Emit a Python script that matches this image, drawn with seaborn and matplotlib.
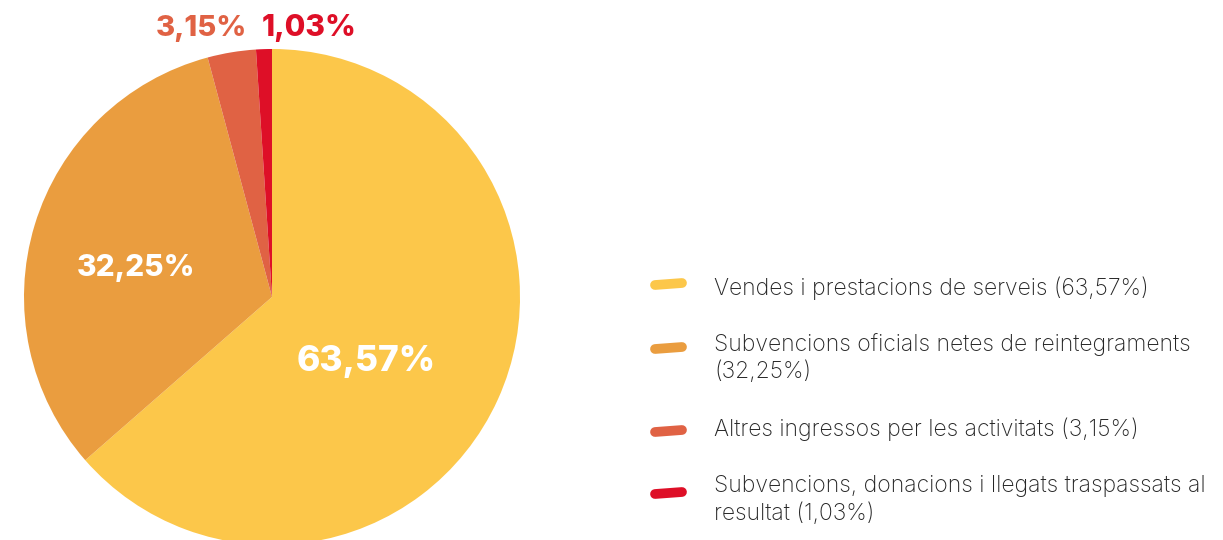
import matplotlib
matplotlib.use("Agg")
import matplotlib.pyplot as plt
import seaborn as sns

# =========================
# DATA
# =========================
categories = [
    "Vendes i prestacions de serveis (63,57%)",
    "Subvencions oficials netes de reintegraments\n(32,25%)",
    "Altres ingressos per les activitats (3,15%)",
    "Subvencions, donacions i llegats traspassats al\nresultat (1,03%)",
]
values = [63.57, 32.25, 3.15, 1.03]
pct_labels = ["63,57%", "32,25%", "3,15%", "1,03%"]
colors = ["#FCC74A", "#EA9D3F", "#E06244", "#DE0F27"]

# =========================
# STYLE
# =========================
sns.set_theme(style="white")
plt.rcParams["font.family"] = ["Inter", "DejaVu Sans"]
palette = sns.color_palette(colors)

W, H = 1223, 540
fig = plt.figure(figsize=(W / 100, H / 100), dpi=100)
ax = fig.add_axes([0, 0, 1, 1])

# =========================
# PIE
# =========================
cx, cy, r = 272, 243, 248
wedges, _ = ax.pie(values, colors=palette, startangle=90, counterclock=False,
                   center=(cx, cy), radius=r, frame=True,
                   wedgeprops=dict(linewidth=0))
ax.set_xlim(0, W)
ax.set_ylim(0, H)
ax.set_aspect("equal")
ax.axis("off")

# value labels
label_pos = [(366, 179), (136, 272), (201, 512), (309, 512)]
label_colors = ["white", "white", colors[2], colors[3]]
label_sizes = [25.5, 21.5, 21, 21.5]
for txt, (x, y), c, s in zip(pct_labels, label_pos, label_colors, label_sizes):
    ax.text(x, y, txt, color=c, fontsize=s, fontweight="heavy",
            ha="center", va="center")

# =========================
# LEGEND
# =========================
marker_y = [256, 192, 109, 47]
text_y = [252, 182, 111, 40]
for lab, c, my, ty in zip(categories, colors, marker_y, text_y):
    ax.plot([655, 682], [my - 1, my + 1], color=c, linewidth=7,
            solid_capstyle="round")
    ax.text(714, ty, lab, fontsize=16.5, color="#262626",
            fontweight="light", ha="left", va="center", linespacing=1.3)

fig.savefig("out.png", dpi=100)
